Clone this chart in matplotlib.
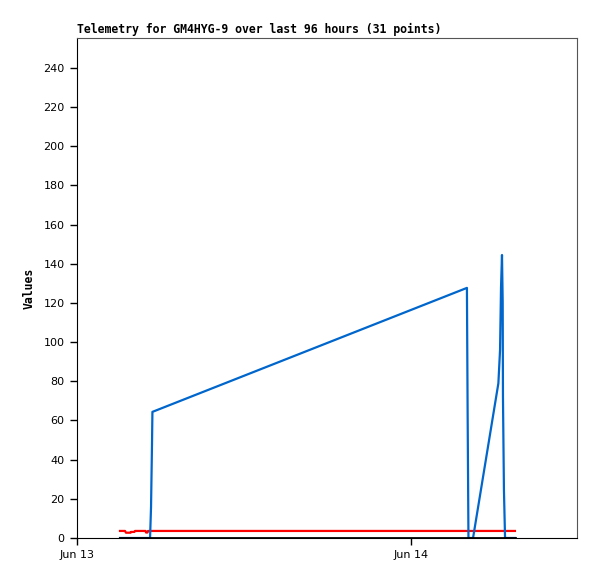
import datetime as dt
import matplotlib
matplotlib.use("Agg")
import matplotlib.pyplot as plt
import matplotlib.dates as mdates

# Telemetry samples, hours after Jun 13 00:00
hours = [3.09, 3.45, 3.52, 3.85, 3.88, 4.12, 4.17, 4.93, 4.96, 5.07, 5.10, 5.25,
         5.32, 5.39, 5.42, 28.02, 28.07, 28.13, 28.46, 30.28, 30.40, 30.47,
         30.54, 30.59, 30.61, 30.68, 30.76, 31.47]
blue_vals = [0, 0, 0, 0, 0, 0, 0, 0, 0, 0, 0, 0,
             15.8, 48, 64.4, 127.7, 64.4, 0, 0, 79, 96, 128,
             144.5, 120.5, 72, 24.5, 0, 0]
red_vals = [3.6, 3.6, 2.7, 2.7, 3.1, 3.1, 3.6, 3.6, 2.8, 2.8, 3.6, 3.6,
            3.6, 3.6, 3.6, 3.6, 3.6, 3.6, 3.6, 3.6, 3.6, 3.6,
            3.6, 3.6, 3.6, 3.6, 3.6, 3.6]
black_vals = [0] * len(hours)

start = dt.datetime(2023, 6, 13)
times = [start + dt.timedelta(hours=h) for h in hours]

fig = plt.figure(figsize=(5.97, 5.79), dpi=100)
ax = fig.add_axes([77 / 597, 1 - 538 / 579, 500 / 597, 500 / 579])

ax.plot(times, red_vals, color="#ff0000", lw=1.6)
ax.plot(times, blue_vals, color="#0066cc", lw=1.6)
ax.plot(times, black_vals, color="black", lw=2.0)

ax.set_xlim(start, start + dt.timedelta(hours=35.93))
ax.set_ylim(0, 255.3)
ax.set_yticks(range(0, 241, 20))
ax.xaxis.set_major_locator(mdates.DayLocator())
ax.xaxis.set_major_formatter(mdates.DateFormatter("%b %d"))

ax.tick_params(direction="out", length=5, width=1, labelsize=8, color="black", pad=4)
for side in ["top", "right"]:
    ax.spines[side].set_color("#555555")
for side in ["left", "bottom"]:
    ax.spines[side].set_color("black")

ax.set_title("Telemetry for GM4HYG-9 over last 96 hours (31 points)", loc="left",
             family="DejaVu Sans Mono", fontweight="bold", fontsize=8.3, pad=3.5)
ax.set_ylabel("Values", family="DejaVu Sans Mono", fontweight="bold", fontsize=8.3)
ax.yaxis.set_label_coords(-0.083, 0.5)

fig.savefig("out.png", dpi=100)
